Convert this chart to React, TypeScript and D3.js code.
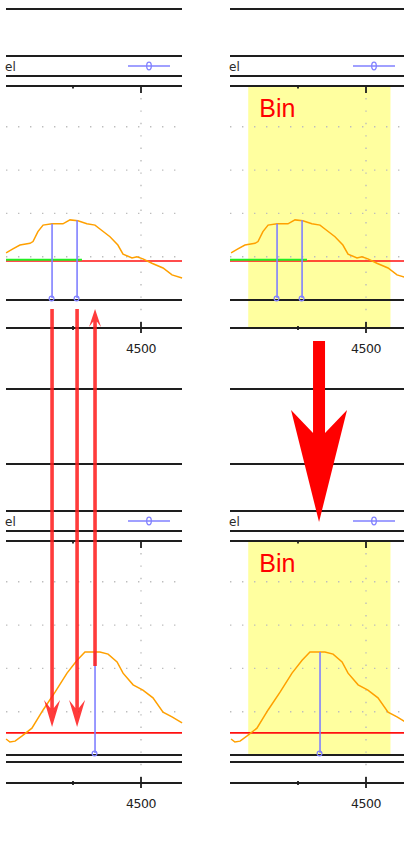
import React from 'react';
import * as d3 from 'd3';

// x values of the traces (data units), y = intensity
const topCurveX = [4004, 4029, 4055, 4092, 4103, 4121, 4140, 4173, 4213, 4239, 4268, 4301, 4331, 4349, 4386, 4415, 4434, 4467, 4485, 4507, 4540, 4581, 4614, 4651];
const topCurveY = [1.09, 1.18, 1.27, 1.31, 1.35, 1.58, 1.73, 1.76, 1.76, 1.85, 1.83, 1.76, 1.73, 1.64, 1.46, 1.27, 1.06, 0.97, 1.0, 0.95, 0.85, 0.74, 0.58, 0.51];

const bottomCurveX = [4004, 4018, 4037, 4063, 4099, 4140, 4184, 4228, 4265, 4294, 4349, 4379, 4412, 4434, 4471, 4507, 4544, 4581, 4614, 4651];
const bottomCurveY = [0.37, 0.3, 0.32, 0.44, 0.62, 1.04, 1.45, 1.89, 2.19, 2.38, 2.38, 2.33, 2.15, 1.89, 1.62, 1.5, 1.32, 0.99, 0.88, 0.74];

const topPeaksX = [4173, 4265];
const topPeaksY = [1.76, 1.84];
const bottomPeaksX = [4331];
const bottomPeaksY = [2.38];

const topThreshold = 0.9;
const bottomThreshold = 0.51;
const greenRange = [4000, 4283];
const greenLevel = 0.93;

const binRange = [4067, 4590];
const xTicks = [4250, 4500];
const xTickLabels = ['', '4500'];
const yGrid = [1, 2, 3, 4];

const W = 404;
const H = 841;
const PANEL_DY = 455;
const COLS = [
  { x0: 6, x1: 182, shift: 0 },
  { x0: 230, x1: 404, shift: 225 },
];

const makeX = (shift: number) =>
  d3.scaleLinear().domain([4000, 4650]).range([5 + shift, 181.8 + shift]);
const makeY = (dy: number) =>
  d3.scaleLinear().domain([0, 5]).range([300 + dy, 83.5 + dy]);

const BLUE = '#8080ff';
const BLACK = '#1e1e1e';

function Panel({ col, dy, bottom, showBin }: any) {
  const x = makeX(col.shift);
  const y = makeY(dy);
  const cx = col.x0;
  const cw = col.x1;
  const curveX = bottom ? bottomCurveX : topCurveX;
  const curveY = bottom ? bottomCurveY : topCurveY;
  const thr = bottom ? bottomThreshold : topThreshold;
  const peaksX = bottom ? bottomPeaksX : topPeaksX;
  const peaksY = bottom ? bottomPeaksY : topPeaksY;

  const line = d3
    .line<number>()
    .x((_, i) => x(curveX[i]))
    .y((d) => y(d));

  const frame = [9, 56, 76, 86, 300, 328, 389].map((v) => v + dy);
  if (bottom) frame.push(307 + dy);
  const axisTop = 86 + dy;
  const axisBot = 328 + dy;
  const major = xTicks[1];

  return (
    <g>
      {showBin && (
        <rect
          x={x(binRange[0])}
          y={axisTop}
          width={x(binRange[1]) - x(binRange[0])}
          height={(bottom ? 300 : 328) - 86}
          fill="#ffff9f"
        />
      )}
      {/* dotted grid */}
      {yGrid.map((g) => (
        <line key={'g' + g} x1={cx} x2={cw} y1={y(g)} y2={y(g)}
          stroke="#bdbdbd" strokeWidth={1.4} strokeDasharray="1.4,10.6" />
      ))}
      <line x1={x(major)} x2={x(major)} y1={axisTop + 12} y2={axisBot - 6}
        stroke="#bdbdbd" strokeWidth={1.4} strokeDasharray="1.4,11" />
      {/* frame lines */}
      {frame.map((v, i) => (
        <line key={'f' + i} x1={cx} x2={cw} y1={v} y2={v} stroke={BLACK} strokeWidth={1.8} />
      ))}
      {/* ticks */}
      {xTicks.map((t, i) => (
        <g key={'t' + t}>
          <line x1={x(t)} x2={x(t)} y1={axisTop} y2={axisTop + (i === 1 ? 7 : 2.5)} stroke={BLACK} strokeWidth={1.8} />
          <line x1={x(t)} x2={x(t)} y1={axisBot - (i === 1 ? 6 : 2)} y2={axisBot + (i === 1 ? 5 : 2)} stroke={BLACK} strokeWidth={1.8} />
          {xTickLabels[i] && (
            <text x={x(t)} y={axisBot + 25} textAnchor="middle" fontFamily="DejaVu Sans" fontSize={12.5}
              letterSpacing={-0.4} fill="#222">{xTickLabels[i]}</text>
          )}
        </g>
      ))}
      {/* legend */}
      <text x={cx - 1} y={70.5 + dy} fontFamily="DejaVu Sans" fontSize={12} fill="#2a2a2a">el</text>
      <line x1={128 + col.shift} x2={170 + col.shift} y1={66 + dy} y2={66 + dy} stroke={BLUE} strokeWidth={1.6} />
      <ellipse cx={149 + col.shift} cy={66 + dy} rx={2.3} ry={3.8} fill="none" stroke={BLUE} strokeWidth={1.3} />
      {/* threshold + green */}
      <line x1={cx} x2={cw} y1={y(thr)} y2={y(thr)} stroke="#ff1010" strokeWidth={1.6} />
      {!bottom && (
        <line x1={Math.max(cx, x(greenRange[0]))} x2={x(greenRange[1])} y1={y(greenLevel)} y2={y(greenLevel)}
          stroke="#22ee22" strokeWidth={2} />
      )}
      {/* trace */}
      <path d={line(curveY) || ''} fill="none" stroke="#ffa000" strokeWidth={1.5} />
      {/* peak stems */}
      {peaksX.map((px, i) => (
        <g key={'p' + i}>
          <line x1={x(px)} x2={x(px)} y1={y(peaksY[i])} y2={y(0) - 2} stroke={BLUE} strokeWidth={1.6} />
          <circle cx={x(px) - 0.5} cy={y(0) - 1.5} r={2.4} fill="none" stroke={BLUE} strokeWidth={1.2} />
        </g>
      ))}
      {showBin && (
        <text x={x(binRange[0]) + 11} y={117 + dy} fontFamily="Liberation Sans" fontSize={25} fill="#ff0000">Bin</text>
      )}
    </g>
  );
}

function thinArrow(xc: number, yFrom: number, yTo: number, headLen: number, hw: number) {
  // arrow pointing from yFrom toward yTo, notched head
  const dir = yTo > yFrom ? 1 : -1;
  const back = yTo - dir * headLen;
  const notch = yTo - dir * headLen * 0.7;
  const sw = 1.8;
  return `M${xc - sw},${yFrom} L${xc + sw},${yFrom} L${xc + sw},${notch} L${xc + hw},${back} L${xc},${yTo} L${xc - hw},${back} L${xc - sw},${notch} Z`;
}

export default function App() {
  const xL = makeX(0);
  const xR = makeX(225);
  const yTop = makeY(0);
  const yBot = makeY(PANEL_DY);

  const downArrows = topPeaksX.map((px) => thinArrow(xL(px), yTop(0) + 9, yBot(bottomThreshold) - 6, 27, 8));
  const upX = xL(bottomPeaksX[0]);
  const upArrow = thinArrow(upX, yBot(bottomPeaksY[0]) + 14, yTop(0) + 9, 18, 6);

  const bx = xR(bottomPeaksX[0]) - 1;
  const bigArrow = `M${bx - 6},341 L${bx + 6},341 L${bx + 6},433 L${bx + 28},410 L${bx},522 L${bx - 28},410 L${bx - 6},433 Z`;

  return (
    <svg width={W} height={H} style={{ position: 'absolute', left: 0, top: 0, background: '#fff' }}>
      {COLS.map((c, ci) => (
        <g key={ci}>
          <Panel col={c} dy={0} bottom={false} showBin={ci === 1} />
          <Panel col={c} dy={PANEL_DY} bottom={true} showBin={ci === 1} />
        </g>
      ))}
      {downArrows.map((d, i) => (
        <path key={i} d={d} fill="#ff2020" fillOpacity={0.88} />
      ))}
      <path d={upArrow} fill="#ff2020" fillOpacity={0.88} />
      <path d={bigArrow} fill="#ff0000" />
    </svg>
  );
}
